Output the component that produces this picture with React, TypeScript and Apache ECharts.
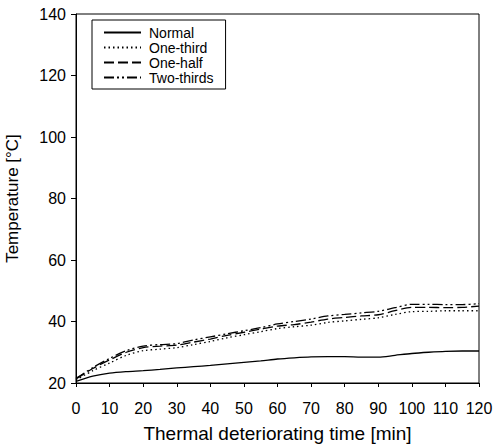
import React, { useEffect, useRef } from "react";
import * as echarts from "echarts";

const times = [0, 5, 10, 15, 20, 25, 30, 35, 40, 45, 50, 55, 60, 65, 70, 75, 80, 85, 90, 95, 100, 105, 110, 115, 120];
const normal = [20.5, 22.2, 23.2, 23.7, 24, 24.4, 24.9, 25.3, 25.7, 26.2, 26.7, 27.2, 27.8, 28.2, 28.5, 28.6, 28.6, 28.4, 28.4, 29, 29.6, 30, 30.3, 30.4, 30.4];
const oneThird = [21, 24, 26.5, 29, 30.5, 31, 31.5, 32.5, 33.5, 34.7, 35.7, 36.7, 37.7, 38.3, 38.8, 39.7, 40.2, 40.7, 41.2, 42.3, 43.2, 43.3, 43.5, 43.5, 43.5];
const oneHalf = [21.3, 24.7, 27.5, 30, 31.5, 32, 32.3, 33.3, 34.3, 35.5, 36.5, 37.5, 38.5, 39, 39.8, 40.8, 41.3, 41.8, 42.2, 43.5, 44.6, 44.6, 44.5, 44.6, 45];
const twoThirds = [21.5, 25, 28, 30.5, 32, 32.5, 32.8, 34, 35, 36, 37, 38, 39.2, 40, 40.8, 41.8, 42.3, 42.8, 43.3, 44.5, 45.6, 45.6, 45.5, 45.5, 45.8];
const seriesNames = ["Normal", "One-third", "One-half", "Two-thirds"];

const FONT = "Liberation Sans, Arial, sans-serif";

export default function App() {
  const ref = useRef<HTMLDivElement>(null);
  useEffect(() => {
    if (!ref.current) return;
    const chart = echarts.init(ref.current, undefined, { renderer: "svg" });
    const pair = (arr: number[]) => times.map((t, i) => [t, arr[i]]);
    const styles: any[] = [
      { type: "solid" },
      { type: [1.5, 3] },
      { type: [10, 4] },
      { type: [10, 3, 2, 3, 2, 3] },
    ];
    const datas = [normal, oneThird, oneHalf, twoThirds];
    chart.setOption({
      animation: false,
      grid: { left: 76, right: 17, top: 14, bottom: 63, show: true, borderColor: "#000", borderWidth: 1, backgroundColor: "transparent", outerBoundsMode: "none", containLabel: false },
      legend: {
        orient: "vertical",
        left: 92,
        top: 20,
        padding: [5, 12, 4, 11],
        borderColor: "#000",
        borderWidth: 1,
        itemWidth: 37,
        itemHeight: 8,
        itemGap: 0,
        itemStyle: { opacity: 0, borderWidth: 0 },
        textStyle: { fontFamily: FONT, fontSize: 14, lineHeight: 15, color: "#000", padding: [0, 0, 0, 3] },
        data: seriesNames,
      },
      xAxis: {
        type: "value",
        min: 0,
        max: 120,
        interval: 10,
        name: "Thermal deteriorating time [min]",
        nameLocation: "middle",
        nameGap: 41,
        nameTextStyle: { fontFamily: FONT, fontSize: 19, color: "#000" },
        axisLine: { lineStyle: { color: "#000" } },
        axisTick: { lineStyle: { color: "#000" }, length: 4 },
        axisLabel: { fontFamily: FONT, fontSize: 16, color: "#000", margin: 17 },
        splitLine: { show: false },
      },
      yAxis: {
        type: "value",
        min: 20,
        max: 140,
        interval: 20,
        name: "Temperature [°C]",
        nameLocation: "middle",
        nameGap: 55,
        nameTextStyle: { fontFamily: FONT, fontSize: 17, color: "#000" },
        axisLine: { show: true, lineStyle: { color: "#000" } },
        axisTick: { show: true, lineStyle: { color: "#000" }, length: 5 },
        axisLabel: { fontFamily: FONT, fontSize: 16, color: "#000", margin: 10 },
        splitLine: { show: false },
      },
      series: seriesNames.map((n, i) => ({
        name: n,
        type: "line",
        data: pair(datas[i]),
        showSymbol: false,
        symbol: "none",
        smooth: 0.3,
        lineStyle: { color: "#000", width: 1.3, ...styles[i] },
        itemStyle: { color: "#000" },
      })),
    });
    return () => chart.dispose();
  }, []);
  return <div ref={ref} style={{ width: 496, height: 446, position: "absolute", left: 0, top: 0 }} />;
}
